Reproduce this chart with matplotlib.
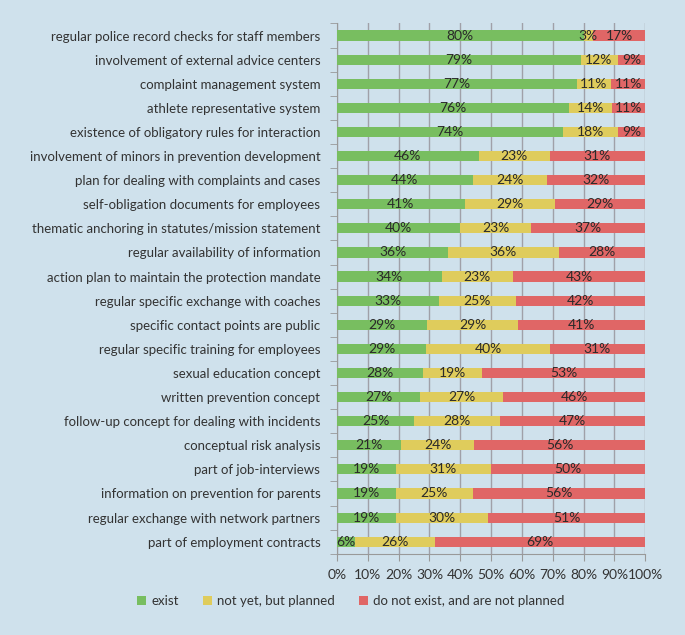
import matplotlib.pyplot as plt
import numpy as np

plt.rcParams["font.family"] = ["Lato", "DejaVu Sans"]

categories = [
    "regular police record checks for staff members",
    "involvement of external advice centers",
    "complaint management system",
    "athlete representative system",
    "existence of obligatory rules for interaction",
    "involvement of minors in prevention development",
    "plan for dealing with complaints and cases",
    "self-obligation documents for employees",
    "thematic anchoring in statutes/mission statement",
    "regular availability of information",
    "action plan to maintain the protection mandate",
    "regular specific exchange with coaches",
    "specific contact points are public",
    "regular specific training for employees",
    "sexual education concept",
    "written prevention concept",
    "follow-up concept for dealing with incidents",
    "conceptual risk analysis",
    "part of job-interviews",
    "information on prevention for parents",
    "regular exchange with network partners",
    "part of employment contracts",
]
exist = [80, 79, 77, 76, 74, 46, 44, 41, 40, 36, 34, 33, 29, 29, 28, 27, 25, 21, 19, 19, 19, 6]
planned = [3, 12, 11, 14, 18, 23, 24, 29, 23, 36, 23, 25, 29, 40, 19, 27, 28, 24, 31, 25, 30, 26]
not_planned = [17, 9, 11, 11, 9, 31, 32, 29, 37, 28, 43, 42, 41, 31, 53, 46, 47, 56, 50, 56, 51, 69]
series_names = ["exist", "not yet, but planned", "do not exist, and are not planned"]
colors = ["#78be60", "#dfcc5c", "#e06666"]

bg = "#cfe1ec"
fig = plt.figure(figsize=(6.85, 6.35), dpi=100, facecolor=bg)
ax = fig.add_axes([0.492, 0.128, 0.45, 0.835], facecolor=bg)

data = np.array([exist, planned, not_planned], dtype=float)
shares = data / data.sum(axis=0) * 100  # rounded values don't always add to 100

y = np.arange(len(categories))
left = np.zeros(len(categories))
for vals, w, name, c in zip(data, shares, series_names, colors):
    ax.barh(y, w, left=left, height=0.42, color=c, label=name, zorder=3)
    for yi, l, wi, v in zip(y, left, w, vals):
        ax.text(l + wi / 2, yi, f"{int(v)}%", ha="center", va="center",
                fontsize=10, color="#2a2a2a", zorder=4)
    left = left + w

ax.set_xlim(0, 100)
ax.set_ylim(len(categories) - 0.5, -0.5)
ax.set_xticks(np.arange(0, 101, 10))
ax.set_xticklabels([f"{t}%" for t in range(0, 101, 10)], fontsize=10, color="#333333")
ax.set_yticks(y)
ax.set_yticklabels(categories, fontsize=9.5, color="#333333")
ax.set_yticks(np.arange(-0.5, len(categories), 1), minor=True)
ax.tick_params(axis="y", which="major", length=0, pad=12)
ax.tick_params(axis="y", which="minor", length=5, color="#999999")
ax.tick_params(axis="x", length=5, color="#999999", pad=6)
ax.grid(axis="x", color="#a0a0a8", linewidth=1, zorder=0)
for s in ["top", "right"]:
    ax.spines[s].set_visible(False)
for s in ["left", "bottom"]:
    ax.spines[s].set_color("#999999")

fig.legend(loc="lower center", bbox_to_anchor=(0.512, 0.025), ncol=3, frameon=False,
           fontsize=9.5, handlelength=0.7, handleheight=0.7, columnspacing=1.8,
           handletextpad=0.4, labelcolor="#333333")

plt.savefig("out.png", dpi=100, facecolor=bg)
